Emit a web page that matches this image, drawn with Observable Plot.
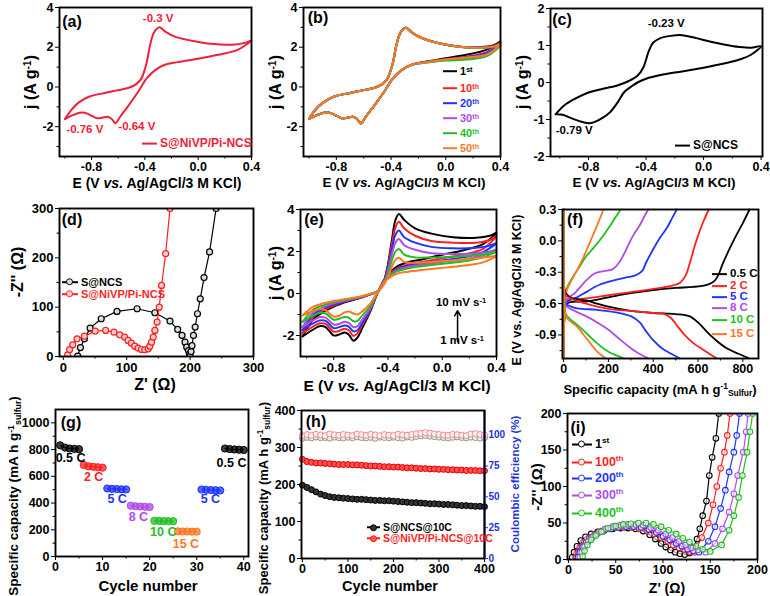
<!DOCTYPE html>
<html><head><meta charset="utf-8">
<script src="https://cdn.jsdelivr.net/npm/d3@7"></script>
<script src="https://cdn.jsdelivr.net/npm/@observablehq/plot@0.6"></script>
<style>
body{margin:0;background:#fff}
#fig{position:relative;width:770px;height:596px;overflow:hidden;font-family:"Liberation Sans",Arial,Helvetica,sans-serif;font-weight:bold;background:#fff}
#fig svg{position:absolute;left:0;top:0}
.t{position:absolute;white-space:nowrap;line-height:1}
sup{font-size:65%;vertical-align:0.5em;line-height:0}
sub{font-size:65%;vertical-align:-0.3em;line-height:0}
</style></head><body><div id="fig"></div>
<script>
// ---------------- DATA ----------------
// (a) CV of S@NiVP/Pi-NCS : anodic and cathodic sweeps
const cvAE = [-1.0,-0.95,-0.9,-0.82,-0.7,-0.6,-0.52,-0.47,-0.43,-0.39,-0.36,-0.33,-0.29,-0.25,-0.17,-0.05,0.1,0.25,0.35,0.4];
const cvCE = [0.4,0.3,0.15,0.0,-0.15,-0.25,-0.32,-0.385,-0.45,-0.52,-0.585,-0.62,-0.65,-0.68,-0.72,-0.76,-0.8,-0.85,-0.89,-0.94,-1.0];
const aAnodic  = [-1.62,-1.15,-0.8,-0.49,-0.3,-0.16,-0.04,0.12,0.38,1.12,2.13,2.75,3.0,2.8,2.52,2.33,2.17,2.13,2.22,2.35];
const aCathodic= [2.35,1.88,1.62,1.42,1.25,1.12,0.86,0.44,-0.24,-0.91,-1.5,-1.82,-1.6,-1.5,-1.55,-1.57,-1.45,-1.3,-1.3,-1.42,-1.62];
const aNotes = [{E:-0.3,j:3.45,t:"-0.3 V"},{E:-0.85,j:-2.13,t:"-0.76 V"},{E:-0.46,j:-1.98,t:"-0.64 V"}];

// (b) cycles 1st..50th
const bCycles = ["1st","10th","20th","30th","40th","50th"];
const bAnodic = [
 [-1.6,-1.12,-0.8,-0.49,-0.3,-0.16,-0.04,0.12,0.38,1.12,2.13,2.75,2.98,2.75,2.45,2.2,2.03,2.0,2.1,2.3],
 [-1.6,-1.12,-0.8,-0.49,-0.3,-0.16,-0.04,0.12,0.38,1.12,2.13,2.75,2.98,2.75,2.45,2.2,2.02,1.98,2.06,2.22],
 [-1.6,-1.12,-0.8,-0.49,-0.3,-0.16,-0.04,0.12,0.38,1.12,2.13,2.75,2.98,2.75,2.45,2.2,2.02,1.98,2.05,2.2],
 [-1.6,-1.12,-0.8,-0.49,-0.3,-0.16,-0.04,0.12,0.38,1.12,2.13,2.75,2.98,2.75,2.45,2.2,2.02,1.97,2.04,2.18],
 [-1.6,-1.12,-0.8,-0.49,-0.3,-0.16,-0.04,0.12,0.38,1.12,2.13,2.75,2.98,2.75,2.45,2.2,2.01,1.96,2.02,2.12],
 [-1.6,-1.12,-0.8,-0.49,-0.3,-0.16,-0.04,0.12,0.38,1.12,2.13,2.75,2.98,2.75,2.45,2.2,2.02,1.97,2.03,2.15]];
const bCathodic = [
 [2.3,1.88,1.62,1.45,1.27,1.12,0.86,0.44,-0.24,-0.91,-1.5,-1.84,-1.6,-1.5,-1.55,-1.57,-1.45,-1.3,-1.3,-1.42,-1.6],
 [2.22,1.75,1.52,1.4,1.25,1.12,0.86,0.44,-0.24,-0.91,-1.5,-1.84,-1.6,-1.5,-1.55,-1.57,-1.45,-1.3,-1.3,-1.42,-1.6],
 [2.2,1.72,1.5,1.38,1.24,1.12,0.86,0.44,-0.24,-0.91,-1.5,-1.84,-1.6,-1.5,-1.55,-1.57,-1.45,-1.3,-1.3,-1.42,-1.6],
 [2.18,1.65,1.45,1.36,1.23,1.12,0.86,0.44,-0.24,-0.91,-1.5,-1.84,-1.6,-1.5,-1.55,-1.57,-1.45,-1.3,-1.3,-1.42,-1.6],
 [2.12,1.55,1.38,1.33,1.22,1.12,0.86,0.44,-0.24,-0.91,-1.5,-1.84,-1.6,-1.5,-1.55,-1.57,-1.45,-1.3,-1.3,-1.42,-1.6],
 [2.15,1.62,1.48,1.38,1.24,1.12,0.86,0.44,-0.24,-0.91,-1.5,-1.84,-1.6,-1.5,-1.55,-1.57,-1.45,-1.3,-1.3,-1.42,-1.6]];

// (c) CV of S@NCS
const cAE = [-1.03,-0.97,-0.9,-0.8,-0.7,-0.6,-0.52,-0.46,-0.42,-0.38,-0.35,-0.3,-0.23,-0.15,-0.05,0.05,0.15,0.25,0.33,0.4];
const cAj = [-0.86,-0.62,-0.45,-0.27,-0.17,-0.08,0.04,0.18,0.4,0.86,1.08,1.2,1.26,1.28,1.2,1.1,1.02,0.96,0.94,0.98];
const cCE = [0.4,0.33,0.25,0.15,0.0,-0.15,-0.3,-0.4,-0.46,-0.5,-0.55,-0.6,-0.65,-0.7,-0.76,-0.8,-0.86,-0.93,-0.98,-1.03];
const cCj = [0.98,0.75,0.62,0.52,0.4,0.3,0.2,0.1,0.0,-0.1,-0.25,-0.55,-0.8,-0.95,-1.07,-1.1,-1.05,-0.95,-0.87,-0.86];
const cNotes = [{E:-0.26,j:1.6,t:"-0.23 V"},{E:-0.9,j:-1.3,t:"-0.79 V"}];

// (d) Nyquist
const dNCSre = [22.8,27,33.3,42.3,59.8,84.7,116.4,144.4,168.3,180.4,187.3,192,194.7,197.4,199,200,201.5,203,205.3,208,211.6,216,222,230.7,241];
const dNCSim = [0.7,18,35.9,57.5,76.5,91.4,96.8,88.7,71.8,54.8,42.7,29,19,12,5.4,0.7,10,22,42.7,59.6,86.7,117,160,212,300];
const dNiVPre = [6.9,10,14.8,21.7,33.3,50.3,66.7,80,88.9,96.8,102,107.4,112.7,118,123.3,128.6,133.9,136.5,139.2,141.8,144.4,148,151.3,155,161.4,168.3];
const dNiVPim = [3.4,14,23.7,35.9,41.3,51.5,52.8,49.4,44,39.3,32.5,27,21,17,14.2,13.5,15.6,21,29,39.3,52.8,69.7,100,144,208.5,300];

// (e) CV at scan rates 10 -> 1 mV/s
const eAE = [-1.03,-0.95,-0.88,-0.8,-0.7,-0.6,-0.53,-0.47,-0.43,-0.4,-0.37,-0.345,-0.32,-0.28,-0.2,-0.08,0.08,0.25,0.35,0.4];
const eCE = [0.4,0.3,0.15,0.0,-0.15,-0.25,-0.34,-0.41,-0.47,-0.53,-0.59,-0.625,-0.655,-0.69,-0.72,-0.76,-0.8,-0.86,-0.9,-0.96,-1.03];
const eAnodic = [
 [-2.05,-1.22,-0.9,-0.62,-0.38,-0.2,-0.04,0.13,0.6,1.4,2.6,3.5,3.78,3.5,3.1,2.85,2.68,2.65,2.75,2.9],
 [-1.9,-1.1,-0.82,-0.57,-0.35,-0.19,-0.04,0.13,0.57,1.3,2.4,3.15,3.42,3.1,2.75,2.5,2.42,2.42,2.55,2.75],
 [-1.75,-1.0,-0.74,-0.52,-0.33,-0.18,-0.03,0.13,0.54,1.2,2.15,2.8,3.0,2.68,2.42,2.22,2.15,2.18,2.28,2.4],
 [-1.6,-0.9,-0.67,-0.47,-0.31,-0.17,-0.03,0.13,0.5,1.1,1.9,2.42,2.6,2.3,2.08,1.92,1.88,1.92,2.0,2.1],
 [-1.35,-0.76,-0.57,-0.41,-0.28,-0.15,-0.02,0.13,0.46,0.95,1.6,2.0,2.12,1.85,1.72,1.72,1.75,1.82,1.92,2.0],
 [-1.05,-0.62,-0.48,-0.36,-0.25,-0.14,-0.01,0.13,0.42,0.8,1.3,1.6,1.7,1.5,1.46,1.5,1.58,1.68,1.75,1.8]];
const eCathodic = [
 [2.9,2.35,2.05,1.85,1.62,1.5,1.26,0.84,0.13,-0.85,-1.65,-2.1,-2.25,-1.95,-1.86,-1.95,-2.0,-1.6,-1.55,-1.75,-2.05],
 [2.75,2.12,1.85,1.68,1.5,1.38,1.17,0.8,0.13,-0.8,-1.5,-1.9,-2.02,-1.75,-1.68,-1.78,-1.82,-1.45,-1.42,-1.6,-1.9],
 [2.4,1.97,1.72,1.57,1.42,1.32,1.13,0.77,0.13,-0.75,-1.4,-1.75,-1.8,-1.58,-1.52,-1.6,-1.65,-1.3,-1.28,-1.45,-1.75],
 [2.1,1.82,1.62,1.5,1.37,1.27,1.09,0.75,0.13,-0.7,-1.25,-1.55,-1.6,-1.4,-1.35,-1.45,-1.48,-1.15,-1.12,-1.3,-1.6],
 [2.0,1.72,1.52,1.42,1.3,1.2,1.04,0.72,0.13,-0.6,-1.05,-1.3,-1.32,-1.15,-1.12,-1.2,-1.25,-0.95,-0.92,-1.08,-1.35],
 [1.8,1.48,1.32,1.22,1.12,1.04,0.93,0.66,0.13,-0.48,-0.85,-1.0,-0.95,-0.86,-0.9,-1.06,-1.1,-0.8,-0.74,-0.85,-1.05]];
const eArrow = [{x1:0.113,y1:-2.3,x2:0.113,y2:-0.82}];

// (f) charge / discharge profiles [capacity, E]
const fRates = ["0.5 C","2 C","5 C","8 C","10 C","15 C"];
const fCharge = [
 [[0,-1.12],[3,-0.75],[15,-0.6],[100,-0.58],[200,-0.54],[300,-0.5],[400,-0.47],[500,-0.45],[580,-0.44],[640,-0.42],[670,-0.39],[690,-0.33],[710,-0.22],[740,-0.08],[770,0.05],[800,0.17],[830,0.3]],
 [[0,-1.12],[3,-0.75],[15,-0.58],[100,-0.55],[200,-0.52],[300,-0.49],[400,-0.46],[480,-0.43],[520,-0.4],[545,-0.33],[565,-0.2],[585,-0.05],[605,0.08],[625,0.19],[648,0.3]],
 [[0,-1.12],[3,-0.75],[15,-0.58],[60,-0.54],[100,-0.49],[160,-0.42],[220,-0.38],[280,-0.35],[320,-0.33],[350,-0.29],[370,-0.2],[400,-0.08],[430,0.03],[460,0.12],[485,0.22],[505,0.3]],
 [[0,-1.12],[3,-0.75],[15,-0.56],[50,-0.5],[100,-0.38],[140,-0.31],[180,-0.29],[220,-0.27],[250,-0.2],[280,-0.08],[310,0.05],[340,0.15],[362,0.24],[378,0.3]],
 [[0,-1.12],[3,-0.75],[15,-0.45],[40,-0.35],[70,-0.25],[100,-0.15],[140,-0.05],[170,0.03],[200,0.12],[230,0.22],[255,0.3]],
 [[0,-1.12],[3,-0.75],[10,-0.5],[30,-0.4],[60,-0.28],[90,-0.15],[110,-0.05],[130,0.05],[150,0.15],[165,0.23],[178,0.3]]];
const fDischarge = [
 [[0,0.3],[3,-0.45],[10,-0.5],[40,-0.55],[100,-0.57],[150,-0.6],[200,-0.63],[300,-0.67],[400,-0.69],[500,-0.7],[560,-0.72],[600,-0.78],[640,-0.87],[680,-0.95],[730,-1.03],[780,-1.08],[825,-1.12]],
 [[0,0.3],[3,-0.45],[10,-0.52],[30,-0.55],[100,-0.6],[200,-0.65],[300,-0.67],[400,-0.69],[450,-0.7],[480,-0.74],[510,-0.82],[540,-0.9],[580,-0.98],[630,-1.05],[680,-1.12]],
 [[0,0.3],[3,-0.5],[10,-0.6],[50,-0.64],[150,-0.66],[250,-0.69],[300,-0.72],[340,-0.78],[370,-0.87],[400,-0.95],[440,-1.03],[480,-1.08],[515,-1.12]],
 [[0,0.3],[3,-0.5],[10,-0.62],[50,-0.67],[100,-0.72],[150,-0.78],[200,-0.85],[250,-0.94],[290,-1.01],[330,-1.07],[375,-1.12]],
 [[0,0.3],[3,-0.55],[10,-0.7],[30,-0.75],[70,-0.82],[110,-0.9],[150,-0.98],[200,-1.06],[230,-1.09],[265,-1.12]],
 [[0,0.3],[3,-0.55],[10,-0.72],[30,-0.77],[60,-0.82],[90,-0.9],[120,-0.98],[150,-1.06],[185,-1.12]]];

// (g) rate capability
const gCycle = [1,2,3,4,5,6,7,8,9,10,11,12,13,14,15,16,17,18,19,20,21,22,23,24,25,26,27,28,29,30,31,32,33,34,35,36,37,38,39,40];
const gCap = [832,815,808,805,803, 685,675,671,668,665, 509,506,505,503,502, 380,376,374,372,370, 267,266,265,265,264, 188,187,187,186,186, 501,499,497,496,494, 808,804,801,799,797];
const gSegRate = ["0.5 C","2 C","5 C","8 C","10 C","15 C","5 C","0.5 C"];
const gNotes = [{c:3.2,v:736,t:"0.5 C"},{c:8.1,v:596,t:"2 C"},{c:13.1,v:429,t:"5 C"},{c:17.6,v:296,t:"8 C"},{c:22.9,v:184,t:"10 C"},{c:27.7,v:97,t:"15 C"},{c:32.9,v:429,t:"5 C"},{c:37.4,v:696,t:"0.5 C"}];

// (h) long cycling at 10C
const hCycle = [0,10,20,30,40,50,60,70,80,90,100,110,120,130,140,150,160,170,180,190,200,210,220,230,240,250,260,270,280,290,300,310,320,330,340,350,360,370,380,390,400];
const hNCS = [198,192,186,180,174,170,167,165,164,163,162,161,160,160,159,158,157,157,156,156,155,154,153,152,151,151,150,149,148,148,147,146,146,145,144,143,143,142,141,141,140];
const hNiVP = [268,262,260,258,258,257,256,255,254,254,254,253,253,252,251,250,250,249,248,248,247,247,246,245,245,244,243,243,242,242,241,241,240,240,239,239,238,238,238,237,237];
const hNCSce = [97.5,98.2,97.8,98.5,97.9,98.1,97.6,98.4,98.0,97.7,98.3,97.9,98.6,98.0,97.8,98.2,97.5,98.4,98.1,97.9,98.3,98.0,97.6,98.5,98.2,99.0,99.5,99.8,99.2,98.8,98.4,98.0,97.7,98.3,98.6,98.1,97.8,98.4,98.0,97.6,97.9];
const hNiVPce = [99.5,100.5,99.8,100.8,100.2,99.6,101.0,100.3,99.9,100.6,100.1,99.7,100.9,100.4,99.8,100.7,100.2,99.6,100.5,100.0,99.7,100.8,100.3,99.9,100.6,101.2,101.5,102.0,101.6,101.0,100.6,100.1,99.8,100.7,100.4,100.0,99.6,100.9,101.3,100.5,100.2];
const hCEticks = [0,25,50,75,100];

// (i) Nyquist after cycling
const iCycles = ["1st","100th","200th","300th","400th"];
const iRe = [
 [4,6,9,13,18,24,31,39,47,55,63,71,79,86,92,98,103,108,113,118,123,128,132,136,139,142,146,149,152,156,159],
 [8,10,13,17,22,28,35,43,51,59,67,75,83,91,98,105,111,117,123,128,133,141,148,153,157,161,165,168,171],
 [10,12,15,19,24,30,37,45,53,61,69,77,85,93,100,107,114,120,126,132,138,148,155,161,166,170,175,178,181],
 [12,14,17,21,26,32,39,47,55,63,71,79,87,95,103,110,117,124,130,137,145,155,163,170,175,179,185,188,190],
 [15,17,20,24,29,35,42,50,58,66,74,82,90,98,106,114,121,128,135,142,150,162,170,175,180,184,189,192,195]];
const iIm = [
 [3,10,18,26,31,35,38,41,42,43,43,42,39,34,28,22,17,13,10,8,7,9,16,28,42,60,80,115,140,166,200],
 [3,10,17,24,30,35,39,42,44,44,44,42,39,35,30,25,20,16,13,11,10,30,50,75,100,125,147,170,200],
 [3,10,17,24,30,35,39,42,44,45,45,44,41,37,32,27,22,18,14,12,10,25,45,70,95,120,147,170,200],
 [3,10,18,25,31,37,42,45,47,48,48,47,44,40,35,30,25,20,16,13,10,22,42,65,90,115,147,175,200],
 [4,12,20,27,33,38,43,46,48,49,50,50,48,45,40,35,29,24,18,14,11,20,40,60,85,115,147,175,200]];

// tick values (major and minor) per panel
const cvXTicks = [-0.8,-0.4,0,0.4], cvXMinor = [-1.0,-0.6,-0.2,0.2];

// ---------------- STYLE ----------------
const W = 770, H = 596;
const FONT = '"Liberation Sans", Arial, Helvetica, sans-serif';
const K = "#000000", RED = "#ff1f1f", BLUE = "#1f33ff", PURPLE = "#b04be8", GREEN = "#1fbf1f", ORANGE = "#ff7722";
const AXBLUE = "#2233dd";
const SIX = [K, RED, BLUE, PURPLE, GREEN, ORANGE];
const RATECOL = {"0.5 C":K,"2 C":RED,"5 C":BLUE,"8 C":PURPLE,"10 C":GREEN,"15 C":ORANGE};
const fig = document.getElementById("fig");

function loop(ea, ja, ec, jc, s) {
  const out = ea.map((E,i)=>({E, j:ja[i], s}));
  ec.forEach((E,i)=>{ if (i>0) out.push({E, j:jc[i], s}); });
  return out;
}

function panel({frame, x, y, marks, fs=12.5, extraAxes=[]}) {
  const [l,t,r,b] = frame;
  const axes = [
    Plot.axisX({anchor:"bottom", ticks:x.ticks, tickFormat:x.tickFormat, tickSize:4, tickPadding:2, label:null}),
    Plot.axisX(x.minor, {anchor:"bottom", tickSize:2.5, tickFormat:()=>"", label:null}),
    Plot.axisY({anchor:"left", ticks:y.ticks, tickFormat:y.tickFormat, tickSize:4, tickPadding:2, label:null}),
    Plot.axisY(y.minor, {anchor:"left", tickSize:2.5, tickFormat:()=>"", label:null})
  ];
  const svg = Plot.plot({
    width: W, height: H,
    marginLeft: l, marginTop: t, marginRight: W - r, marginBottom: H - b,
    style: {background:"transparent", fontFamily: FONT, fontSize: fs+"px", fontWeight:"bold", color:"#000", overflow:"visible"},
    color: {type:"identity"},
    x: {domain:x.domain},
    y: {domain:y.domain},
    marks: [...axes, ...extraAxes, ...marks, Plot.frame({stroke:"#000", strokeWidth:1.9})]
  });
  fig.appendChild(svg);
}

function T(html, x, y, o={}) {
  const d = document.createElement("div");
  d.className = "t";
  d.style.left = x+"px"; d.style.top = y+"px";
  d.style.fontSize = (o.size||14)+"px";
  d.style.color = o.color||"#000";
  const tx = o.align==="left" ? "0" : "-50%";
  d.style.transform = `translate(${tx},-50%)` + (o.rot ? ` rotate(${o.rot}deg)` : "");
  d.innerHTML = html;
  fig.appendChild(d);
}
function L(x, y, color, label, o={}) {
  const len = o.len||15, size = o.size||11.5;
  const d = document.createElement("div");
  d.className = "t";
  d.style.left = x+"px"; d.style.top = y+"px"; d.style.transform = "translateY(-50%)";
  d.style.fontSize = size+"px"; d.style.color = o.textColor||color;
  const mk = o.marker ? `<span style="position:absolute;left:50%;top:50%;width:5px;height:5px;margin:-3.7px 0 0 -3.7px;border:1.2px solid ${color};border-radius:50%;background:${o.fill||"#fff"}"></span>` : "";
  d.innerHTML = `<span style="display:inline-block;position:relative;width:${len}px;height:2px;background:${color};vertical-align:middle;margin-right:3px">${mk}</span><span style="vertical-align:middle">${label}</span>`;
  fig.appendChild(d);
}
const f1 = d => d.toFixed(1);
const fi = d => String(d);

// ---------------- (a) ----------------
panel({frame:[59,7,251,156],
  x:{domain:[-1.04,0.4], ticks:cvXTicks, minor:cvXMinor, tickFormat:f1},
  y:{domain:[-3.5,4], ticks:[-2,0,2,4], minor:[-3,-1,1,3], tickFormat:fi},
  marks:[
    Plot.line(loop(cvAE,aAnodic,cvCE,aCathodic,"a"), {x:"E", y:"j", stroke:"#f0203a", strokeWidth:2, curve:"catmull-rom"}),
    Plot.text(aNotes, {x:"E", y:"j", text:"t", fill:"#f0203a", fontSize:11.5})
  ]});
// ---------------- (b) ----------------
panel({frame:[303,7,500,156],
  x:{domain:[-1.04,0.4], ticks:cvXTicks, minor:cvXMinor, tickFormat:f1},
  y:{domain:[-3.5,4], ticks:[-2,0,2,4], minor:[-3,-1,1,3], tickFormat:fi},
  marks: bCycles.map((c,i)=>Plot.line(loop(cvAE,bAnodic[i],cvCE,bCathodic[i],c), {x:"E", y:"j", stroke:SIX[i], strokeWidth:2, curve:"catmull-rom"}))
});
// ---------------- (c) ----------------
panel({frame:[550,8,762,156],
  x:{domain:[-1.065,0.41], ticks:cvXTicks, minor:cvXMinor, tickFormat:f1},
  y:{domain:[-2,2], ticks:[-2,-1,0,1,2], minor:[-1.5,-0.5,0.5,1.5], tickFormat:fi},
  marks:[
    Plot.line(loop(cAE,cAj,cCE,cCj,"c"), {x:"E", y:"j", stroke:K, strokeWidth:2, curve:"catmull-rom"}),
    Plot.text(cNotes, {x:"E", y:"j", text:"t", fill:K, fontSize:11.5})
  ]});
// ---------------- (d) ----------------
const dNCS = dNCSre.map((v,i)=>({re:v, im:dNCSim[i]}));
const dNiVP = dNiVPre.map((v,i)=>({re:v, im:dNiVPim[i]}));
panel({frame:[59,208,253,356], fs:13,
  x:{domain:[-6,300], ticks:[0,100,200,300], minor:[50,150,250], tickFormat:fi},
  y:{domain:[0,300], ticks:[0,100,200,300], minor:[50,150,250], tickFormat:fi},
  marks:[
    Plot.line(dNCS, {x:"re", y:"im", stroke:K, strokeWidth:1.2, clip:true}),
    Plot.dot(dNCS, {x:"re", y:"im", stroke:K, fill:"#ddd", r:3, strokeWidth:1.2, clip:true}),
    Plot.line(dNiVP, {x:"re", y:"im", stroke:RED, strokeWidth:1.2, clip:true}),
    Plot.dot(dNiVP, {x:"re", y:"im", stroke:RED, fill:"#ffd0d0", r:3, strokeWidth:1.2, clip:true})
  ]});
// ---------------- (e) ----------------
panel({frame:[300,209,496,356], fs:13.5,
  x:{domain:[-1.045,0.4], ticks:cvXTicks, minor:cvXMinor, tickFormat:f1},
  y:{domain:[-3,4], ticks:[-2,0,2,4], minor:[-1,1,3], tickFormat:fi},
  marks:[
    ...eAnodic.map((a,i)=>Plot.line(loop(eAE,a,eCE,eCathodic[i],"e"+i), {x:"E", y:"j", stroke:SIX[i], strokeWidth:2, curve:"catmull-rom"})),
    Plot.arrow(eArrow, {x1:"x1", y1:"y1", x2:"x2", y2:"y2", stroke:K, strokeWidth:1.5, headLength:6})
  ]});
// ---------------- (f) ----------------
const fToObj = (arr, r) => arr.map(([q,E])=>({q, E, r}));
panel({frame:[562,209,758,358],
  x:{domain:[-5,870], ticks:[0,200,400,600,800], minor:[100,300,500,700], tickFormat:fi},
  y:{domain:[-1.125,0.3], ticks:[-0.9,-0.6,-0.3,0,0.3], minor:[-1.05,-0.75,-0.45,-0.15,0.15], tickFormat:f1},
  marks:[
    ...fRates.map((r,i)=>Plot.line(fToObj(fCharge[i],r), {x:"q", y:"E", stroke:RATECOL[r], strokeWidth:1.8, curve:"catmull-rom"})),
    ...fRates.map((r,i)=>Plot.line(fToObj(fDischarge[i],r), {x:"q", y:"E", stroke:RATECOL[r], strokeWidth:1.8, curve:"catmull-rom"}))
  ]});
// ---------------- (g) ----------------
const gData = gCycle.map((c,i)=>{const seg=Math.floor(i/5); const r=gSegRate[seg]; return {c, v:gCap[i], seg, col:RATECOL[r]};});
const gLab = gNotes.map(n=>({...n, col:RATECOL[n.t]}));
panel({frame:[55,409,248,556],
  x:{domain:[0,41], ticks:[0,10,20,30,40], minor:[5,15,25,35], tickFormat:fi},
  y:{domain:[0,1100], ticks:[0,200,400,600,800,1000], minor:[100,300,500,700,900], tickFormat:fi},
  marks:[
    Plot.line(gData, {x:"c", y:"v", z:"seg", stroke:"col", strokeWidth:1}),
    Plot.dot(gData, {x:"c", y:"v", fill:"col", stroke:"col", fillOpacity:0.75, r:3.6, strokeWidth:1}),
    Plot.text(gLab, {x:"c", y:"v", text:"t", fill:"col", fontSize:12.5})
  ]});
// ---------------- (h) ----------------
const hToLeft = v => v*400/120;
const hCap1 = hCycle.map((c,i)=>({c, v:hNCS[i]}));
const hCap2 = hCycle.map((c,i)=>({c, v:hNiVP[i]}));
const hCe1 = hCycle.map((c,i)=>({c, v:hToLeft(hNCSce[i])}));
const hCe2 = hCycle.map((c,i)=>({c, v:hToLeft(hNiVPce[i])}));
const hXdom = [-2,400];
panel({frame:[301,410,484,558],
  x:{domain:hXdom, ticks:[0,100,200,300,400], minor:[50,150,250,350], tickFormat:fi},
  y:{domain:[0,400], ticks:[0,100,200,300,400], minor:[50,150,250,350], tickFormat:fi},
  extraAxes:[
    Plot.axisY(hCEticks.map(hToLeft), {anchor:"right", tickFormat:d=>String(Math.round(d*120/400)), tickSize:3, tickPadding:1, label:null, color:AXBLUE, fontSize:10})
  ],
  marks:[
    Plot.dot(hCe1, {x:"c", y:"v", stroke:"#8a9a8a", fill:"#eef0ee", r:3, strokeWidth:1}),
    Plot.dot(hCe2, {x:"c", y:"v", stroke:"#f08a8a", fill:"#fff0f0", r:3, strokeWidth:1}),
    Plot.dot(hCap1, {x:"c", y:"v", stroke:"#000", fill:"#333", r:3, strokeWidth:1}),
    Plot.dot(hCap2, {x:"c", y:"v", stroke:"#e00000", fill:"#ff5050", r:3, strokeWidth:1}),
    Plot.ruleX([hXdom[1]], {stroke:AXBLUE, strokeWidth:2})
  ]});
// ---------------- (i) ----------------
const iData = iCycles.flatMap((c,k)=>iRe[k].map((v,i)=>({re:v, im:iIm[k][i], s:c, col:[K,RED,BLUE,PURPLE,GREEN][k]})));
panel({frame:[567,413,757,559],
  x:{domain:[-1,200], ticks:[0,50,100,150,200], minor:[25,75,125,175], tickFormat:fi},
  y:{domain:[0,200], ticks:[0,50,100,150,200], minor:[25,75,125,175], tickFormat:fi},
  marks:[
    Plot.line(iData, {x:"re", y:"im", z:"s", stroke:"col", strokeWidth:1.2, clip:true}),
    Plot.dot(iData, {x:"re", y:"im", stroke:"col", fill:"#fff", fillOpacity:0.6, r:2.8, strokeWidth:1.1, clip:true})
  ]});

// ---------------- TEXT: titles, letters, legends ----------------
const jT = "j (A g<sup>-1</sup>)";
const eT = "E (V <i>vs.</i> Ag/AgCl/3 M KCl)";
T(jT, 31, 82, {size:16, rot:-90});
T(jT, 276, 82, {size:16, rot:-90});
T(jT, 523, 82, {size:16, rot:-90});
T(eT, 157, 183, {size:14});
T(eT, 404, 183, {size:13.5});
T(eT, 654, 183, {size:13.5});
T("-Z'' (Ω)", 18, 272, {size:16, rot:-90});
T("Z' (Ω)", 155, 385, {size:16});
T(jT, 276, 273, {size:16, rot:-90});
T(eT, 397, 386, {size:15.5});
T("E (V vs. Ag/AgCl/3 M KCl)", 517, 290, {size:12.5, rot:-90});
T("Specific capacity (mA h g<sup>-1</sup><sub>Sulfur</sub>)", 660, 389, {size:13});
const scT = "Specific capacity (mA h g<sup>-1</sup><sub>sulfur</sub>)";
T(scT, 14, 496, {size:13.5, rot:-90});
T("Cycle number", 148, 585, {size:15});
T(scT, 263, 498, {size:13, rot:-90});
T("Cycle number", 390, 586, {size:14.5});
T("Coulombic efficiency (%)", 516, 484, {size:11.5, rot:-90, color:AXBLUE});
T("-Z'' (Ω)", 536, 487, {size:15, rot:-90});
T("Z' (Ω)", 667, 588, {size:14});
// panel letters
[["(a)",72,22],["(b)",318,18],["(c)",562,20],["(d)",72,220],["(e)",314,220],["(f)",575,220],["(g)",71,423],["(h)",316,422],["(i)",578,428]]
  .forEach(([s,x,y])=>T(s,x,y,{size:16}));
// legends
L(142, 143, "#f0203a", "S@NiVP/Pi-NCS", {size:12});
["1<sup>st</sup>","10<sup>th</sup>","20<sup>th</sup>","30<sup>th</sup>","40<sup>th</sup>","50<sup>th</sup>"].forEach((s,i)=>L(443,[71,88,103,118,133,148][i],SIX[i],s,{len:14,size:11}));
L(675, 145, K, "S@NCS", {size:12});
L(62, 282, K, "S@NCS", {marker:true, len:16, size:11, fill:"#ddd"});
L(62, 294, RED, "S@NiVP/Pi-NCS", {marker:true, len:16, size:11, fill:"#ffd0d0"});
T("10 mV s<sup>-1</sup>", 461, 303, {size:11.5});
T("1 mV s<sup>-1</sup>", 462, 341, {size:11.5});
fRates.forEach((r,i)=>L(712,[274,286,297,308,320,334][i],RATECOL[r],r,{len:15,size:11.5}));
L(367, 527, K, "S@NCS@10C", {marker:true, len:13, size:10.5, fill:"#333"});
L(367, 538, RED, "S@NiVP/Pi-NCS@10C", {marker:true, len:13, size:10.5, fill:"#ff5050"});
["1<sup>st</sup>","100<sup>th</sup>","200<sup>th</sup>","300<sup>th</sup>","400<sup>th</sup>"].forEach((s,i)=>L(572,[444,462,478,495,513][i],[K,RED,BLUE,PURPLE,GREEN][i],s,{marker:true,len:20,size:12.5}));
</script></body></html>
